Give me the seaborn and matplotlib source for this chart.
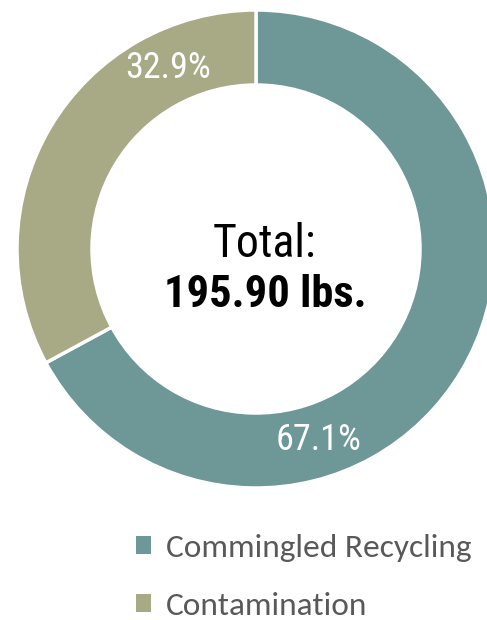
import matplotlib
matplotlib.use("Agg")
import matplotlib.pyplot as plt
from matplotlib import font_manager
from matplotlib.patches import Patch
import numpy as np
import seaborn as sns

categories = ["Commingled Recycling", "Contamination"]
shares = [67.1, 32.9]
total_lbs = 195.90
colors = ["#6E9797", "#A8A985"]

sns.set_theme(style="white")

available = {f.name for f in font_manager.fontManager.ttflist}


def pick(prefs):
    for name in prefs:
        if name in available:
            return name
    return "DejaVu Sans"


narrow = pick(["Liberation Sans Narrow", "Arial Narrow", "Roboto Condensed",
               "Archivo Narrow", "PT Sans Narrow", "Liberation Sans"])
legend_font = pick(["Carlito", "Calibri", "Open Sans"])

fig = plt.figure(figsize=(4.87, 6.2), dpi=100)
ax = fig.add_axes([0, 0, 1, 1])

H = 620
cx, cy, r_out = 256, H - 249, 239
width = 75
wedges, _ = ax.pie(shares, colors=colors, startangle=90, counterclock=False,
                   radius=r_out, center=(cx, cy),
                   wedgeprops=dict(width=width, edgecolor="white", linewidth=2.5))
ax.set_xlim(0, 487)
ax.set_ylim(0, H)
ax.set_aspect("equal")
ax.axis("off")

# percentage labels placed inside the ring
r_lab = 201
label_angles = [-72, 116]
for val, ang in zip(shares, label_angles):
    a = np.deg2rad(ang)
    ax.text(cx + r_lab * np.cos(a), cy + r_lab * np.sin(a), f"{val:.1f}%",
            ha="center", va="center", color="white", fontsize=26,
            family=[narrow, "DejaVu Sans"])

ax.text(264, H - 257, "Total:", ha="center", va="baseline", fontsize=33,
        color="black", family=[narrow, "DejaVu Sans"])
ax.text(265, H - 307, f"{total_lbs:.2f} lbs.", ha="center", va="baseline", fontsize=32,
        fontweight="bold", color="black", family=[narrow, "DejaVu Sans"])

handles = [Patch(facecolor=c, edgecolor="none") for c in colors]
leg = fig.legend(handles, categories, loc="upper left", bbox_to_anchor=(106 / 487, 1 - 504 / 620),
                 frameon=False, handlelength=0.45, handleheight=0.45, handletextpad=0.45,
                 labelspacing=0.9, prop=dict(family=legend_font, size=24))
for t in leg.get_texts():
    t.set_color("#595959")

fig.savefig("out.png", dpi=100)
